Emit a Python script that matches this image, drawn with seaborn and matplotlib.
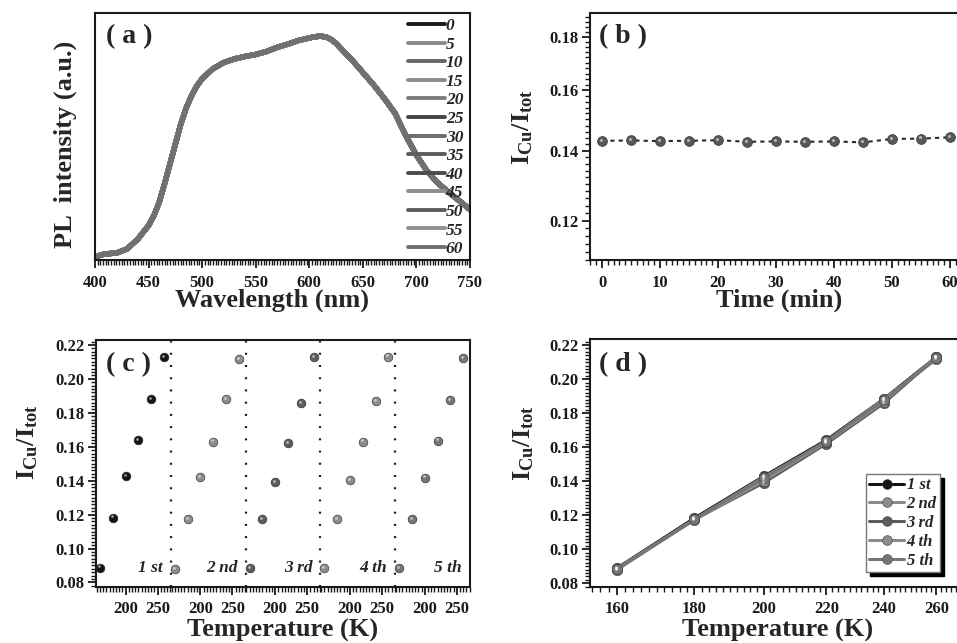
import numpy as np
import pandas as pd
import matplotlib
matplotlib.use("Agg")
import matplotlib.pyplot as plt
import seaborn as sns
from matplotlib.ticker import (FixedLocator, FixedFormatter, NullFormatter,
                               MultipleLocator, FuncFormatter)
from matplotlib.lines import Line2D
from matplotlib.transforms import ScaledTranslation

# ---------------- data ----------------
# (a) PL spectrum (normalised intensity), identical for every time step
wavelength = [400, 405, 410, 420, 430, 440, 450, 455, 460, 465, 470, 475, 480,
              485, 490, 495, 500, 510, 520, 530, 540, 550, 560, 570, 580, 590,
              600, 605, 610, 615, 620, 625, 630, 640, 650, 660, 670, 680, 690,
              700, 710, 720, 730, 740, 750]
pl_intensity = [0.010, 0.020, 0.025, 0.028, 0.045, 0.085, 0.140, 0.180, 0.235,
                0.310, 0.390, 0.470, 0.550, 0.615, 0.665, 0.705, 0.735, 0.775,
                0.800, 0.815, 0.825, 0.833, 0.845, 0.862, 0.875, 0.890, 0.900,
                0.905, 0.907, 0.905, 0.895, 0.878, 0.855, 0.810, 0.760, 0.710,
                0.655, 0.595, 0.505, 0.425, 0.360, 0.312, 0.275, 0.240, 0.205]
time_labels = ["0", "5", "10", "15", "20", "25", "30", "35", "40", "45", "50",
               "55", "60"]
time_colors = ["#1a1a1a", "#8a8a8a", "#676767", "#8c8c8c", "#7c7c7c", "#454545",
               "#6c6c6c", "#5c5c5c", "#4c4c4c", "#8e8e8e", "#5e5e5e", "#909090",
               "#707070"]

# (b) ratio vs time
time_min = [0, 5, 10, 15, 20, 25, 30, 35, 40, 45, 50, 55, 60]
ratio_time = [0.1431, 0.1432, 0.1430, 0.1431, 0.1433, 0.1428, 0.1429, 0.1428,
              0.1429, 0.1426, 0.1437, 0.1438, 0.1442]

# (c)/(d) ratio vs temperature for five cycles
temps = [160, 180, 200, 220, 240, 260]
cycle_names = ["1 st", "2 nd", "3 rd", "4 th", "5 th"]
cycle1 = [0.0888, 0.1182, 0.1428, 0.1641, 0.1882, 0.2129]
cycle2 = [0.0879, 0.1175, 0.1423, 0.1630, 0.1882, 0.2117]
cycle3 = [0.0885, 0.1175, 0.1391, 0.1621, 0.1858, 0.2129]
cycle4 = [0.0885, 0.1173, 0.1403, 0.1630, 0.1868, 0.2131]
cycle5 = [0.0885, 0.1175, 0.1418, 0.1636, 0.1876, 0.2123]
cycle_colors = ["#151515", "#8c8c8c", "#5c5c5c", "#8c8c8c", "#767676"]

# tick labels
yticks_b = [0.12, 0.14, 0.16, 0.18]
yticks_cd = [0.08, 0.10, 0.12, 0.14, 0.16, 0.18, 0.20, 0.22]
xticks_c_labels = ["200", "250"]
xticks_d = [160, 180, 200, 220, 240, 260]

# ---------------- style ----------------
sns.set_theme(style="ticks")
plt.rcParams.update({
    "font.family": ["Liberation Serif", "DejaVu Serif"],
    "font.weight": "bold",
    "axes.labelweight": "bold",
    "mathtext.fontset": "custom",
    "mathtext.rm": "Liberation Serif:bold",
    "mathtext.bf": "Liberation Serif:bold",
    "mathtext.it": "Liberation Serif:bold:italic",
    "axes.linewidth": 1.5,
    "axes.edgecolor": "#1a1a1a",
    "xtick.color": "#1a1a1a",
    "ytick.color": "#1a1a1a",
    "xtick.labelcolor": "#1a1a1a",
    "ytick.labelcolor": "#1a1a1a",
    "xtick.direction": "out",
    "ytick.direction": "out",
    "xtick.major.size": 6, "ytick.major.size": 6,
    "xtick.minor.size": 3.3, "ytick.minor.size": 3.3,
    "xtick.major.width": 1.3, "ytick.major.width": 1.3,
    "xtick.minor.width": 1.0, "ytick.minor.width": 1.0,
    "xtick.major.pad": 4.5, "ytick.major.pad": 2.5,
    "xtick.labelsize": 12, "ytick.labelsize": 12,
    "axes.labelsize": 19,
})

W, H = 957, 643
fig = plt.figure(figsize=(W / 100, H / 100), dpi=100)

def px_axes(l, t, r, b):
    return fig.add_axes([l / W, 1 - b / H, (r - l) / W, (b - t) / H])

ax_a = px_axes(95, 13.3, 470, 260)
ax_b = px_axes(590, 13.3, 965, 260)
ax_c = px_axes(96, 340, 470, 586.7)
ax_d = px_axes(590, 339.3, 966, 586.7)

def sphere_highlight(ax, x, y, s):
    off = ax.transData + ScaledTranslation(-0.9 / 100, 1.2 / 100, fig.dpi_scale_trans)
    ax.scatter(x, y, s=s, color="white", alpha=0.55, linewidths=0,
               transform=off, zorder=6, clip_on=False)

def panel_label(ax, txt, x, y):
    ax.text(x, y, txt, transform=ax.transAxes, ha="left", va="center",
            fontsize=20, fontweight="bold")

# ---------------- (a) ----------------
df_a = pd.DataFrame([
    {"wavelength": w, "intensity": v, "time": t}
    for t in time_labels for w, v in zip(wavelength, pl_intensity)
])
sns.lineplot(data=df_a, x="wavelength", y="intensity", hue="time",
             hue_order=time_labels, palette=time_colors, lw=3.8,
             estimator=None, sort=False, legend=False, ax=ax_a)
for ln in ax_a.get_lines():
    ln.set_solid_joinstyle("round")
ax_a.set_xlim(400, 750)
ax_a.set_ylim(0, 1)
ax_a.set_yticks([])
ax_a.xaxis.set_major_locator(MultipleLocator(50))
ax_a.xaxis.set_minor_locator(MultipleLocator(2.5))
ax_a.set_xlabel("Wavelength (nm)")
ax_a.set_ylabel("PL  intensity (a.u.)")
ax_a.xaxis.label.set_va("center")
ax_a.yaxis.label.set_va("center")
ax_a.xaxis.set_label_coords(0.472, -0.165)
ax_a.yaxis.set_label_coords(-0.08, 0.47)
handles_a = [Line2D([], [], color=c, lw=2.8) for c in time_colors]
ax_a.legend(handles_a, time_labels, loc="upper right",
            bbox_to_anchor=(0.982, 0.981), frameon=False,
            prop={"style": "italic", "weight": "bold", "size": 12.5},
            handlelength=2.1, handletextpad=0.05, labelspacing=0.14,
            borderaxespad=0, borderpad=0)
panel_label(ax_a, "( a )", 0.029, 0.906)

# ---------------- (b) ----------------
sns.lineplot(x=time_min, y=ratio_time, color="#2a2a2a", lw=1.5,
             linestyle=(0, (2, 2)), ax=ax_b, zorder=2)
sns.scatterplot(x=time_min, y=ratio_time, color="#575757", s=50,
                edgecolor="#3a3a3a", linewidth=0.5, ax=ax_b, zorder=5,
                legend=False, clip_on=False)
sphere_highlight(ax_b, time_min, ratio_time, 5)
ax_b.set_yscale("log")
ax_b.set_ylim(0.1100, 0.1896)
ax_b.set_xlim(-2.07, 62.6)
ax_b.yaxis.set_major_locator(FixedLocator(yticks_b))
ax_b.yaxis.set_major_formatter(FuncFormatter(lambda v, p: f"{v:.2f}"))
ax_b.yaxis.set_minor_locator(FixedLocator(np.arange(0.110, 0.1895, 0.002)))
ax_b.yaxis.set_minor_formatter(NullFormatter())
ax_b.xaxis.set_major_locator(MultipleLocator(10))
ax_b.xaxis.set_minor_locator(MultipleLocator(1))
ax_b.set_xlabel("Time (min)")
ax_b.set_ylabel(r"$\mathrm{I_{Cu}/I_{tot}}$")
ax_b.xaxis.label.set_va("center")
ax_b.yaxis.label.set_va("center")
ax_b.xaxis.set_label_coords(0.503, -0.165)
ax_b.yaxis.set_label_coords(-0.18, 0.54)
panel_label(ax_b, "( b )", 0.024, 0.906)

# ---------------- (c) ----------------
seg_start = 153.75
seg_period = 117.0
all_cycles = [cycle1, cycle2, cycle3, cycle4, cycle5]
df_c = pd.DataFrame([
    {"temp": t, "x": t + k * seg_period, "ratio": v, "cycle": cycle_names[k]}
    for k, cyc in enumerate(all_cycles) for t, v in zip(temps, cyc)
])
for k, name in enumerate(cycle_names):
    sub = df_c[df_c["cycle"] == name]
    sns.scatterplot(data=sub, x="x", y="ratio", color=cycle_colors[k], s=40,
                    edgecolor="#2a2a2a", linewidth=0.4, ax=ax_c, zorder=5,
                    legend=False, clip_on=False)
    sphere_highlight(ax_c, sub["x"], sub["ratio"], 4)
    if k > 0:
        ax_c.axvline(seg_start + k * seg_period, color="#1a1a1a", lw=1.6,
                     linestyle=(0, (0.9, 4.6)), zorder=1)
    ax_c.text(seg_start + (k + 1) * seg_period - 12.5, 0.0888, name,
              ha="right", va="center", fontsize=12.5, fontstyle="italic",
              fontweight="bold", zorder=4)
ax_c.set_xlim(seg_start, seg_start + 5 * seg_period)
ax_c.set_ylim(0.0775, 0.2229)
maj_c = [float(lbl) + k * seg_period for k in range(5) for lbl in xticks_c_labels]
ax_c.xaxis.set_major_locator(FixedLocator(maj_c))
ax_c.xaxis.set_major_formatter(FixedFormatter(xticks_c_labels * 5))
min_c = [t + k * seg_period for k in range(5) for t in range(155, 271, 5)]
ax_c.xaxis.set_minor_locator(FixedLocator(min_c))
ax_c.yaxis.set_major_locator(FixedLocator(yticks_cd))
ax_c.yaxis.set_major_formatter(FuncFormatter(lambda v, p: f"{v:.2f}"))
ax_c.yaxis.set_minor_locator(MultipleLocator(0.002))
ax_c.set_xlabel("Temperature (K)")
ax_c.set_ylabel(r"$\mathrm{I_{Cu}/I_{tot}}$")
ax_c.xaxis.label.set_va("center")
ax_c.yaxis.label.set_va("center")
ax_c.xaxis.set_label_coords(0.5, -0.178)
ax_c.yaxis.set_label_coords(-0.182, 0.587)
panel_label(ax_c, "( c )", 0.027, 0.899)

# ---------------- (d) ----------------
df_d = df_c[["temp", "ratio", "cycle"]]
sns.lineplot(data=df_d, x="temp", y="ratio", hue="cycle",
             hue_order=cycle_names, palette=cycle_colors, lw=2.3,
             marker="o", markersize=7.5, markeredgecolor="#3a3a3a",
             markeredgewidth=0.4, estimator=None, sort=False, legend=False,
             ax=ax_d, zorder=4)
sphere_highlight(ax_d, df_d["temp"], df_d["ratio"], 4)
ax_d.set_xscale("log")
ax_d.set_xlim(153.6, 272)
ax_d.set_ylim(0.078, 0.2234)
ax_d.xaxis.set_major_locator(FixedLocator(xticks_d))
ax_d.xaxis.set_major_formatter(FuncFormatter(lambda v, p: f"{v:.0f}"))
ax_d.xaxis.set_minor_locator(FixedLocator(np.arange(154, 272, 2)))
ax_d.xaxis.set_minor_formatter(NullFormatter())
ax_d.yaxis.set_major_locator(FixedLocator(yticks_cd))
ax_d.yaxis.set_major_formatter(FuncFormatter(lambda v, p: f"{v:.2f}"))
ax_d.yaxis.set_minor_locator(MultipleLocator(0.002))
ax_d.set_xlabel("Temperature (K)")
ax_d.set_ylabel(r"$\mathrm{I_{Cu}/I_{tot}}$")
ax_d.xaxis.label.set_va("center")
ax_d.yaxis.label.set_va("center")
ax_d.xaxis.set_label_coords(0.5, -0.178)
ax_d.yaxis.set_label_coords(-0.176, 0.58)
handles_d = [Line2D([], [], color=c, lw=2.2, marker="o", markersize=7,
                    markeredgecolor="#3a3a3a", markeredgewidth=0.4)
             for c in cycle_colors]
leg_d = ax_d.legend(handles_d, cycle_names, loc="upper right",
                    bbox_to_anchor=(0.931, 0.4555), frameon=True,
                    fancybox=False, shadow={"color": "black", "alpha": 1.0,
                                            "ox": 3, "oy": -3},
                    prop={"style": "italic", "weight": "bold", "size": 12},
                    handlelength=2.1, handletextpad=0.15, labelspacing=0.17,
                    borderaxespad=0, borderpad=0.2)
leg_d.get_frame().set_edgecolor("#777777")
leg_d.get_frame().set_linewidth(1.0)
panel_label(ax_d, "( d )", 0.024, 0.899)

for ax in (ax_a, ax_b, ax_c, ax_d):
    for sp in ax.spines.values():
        sp.set_visible(True)
        sp.set_linewidth(1.5)
    ax.tick_params(top=False, right=False)

fig.savefig("out.png", dpi=100)
